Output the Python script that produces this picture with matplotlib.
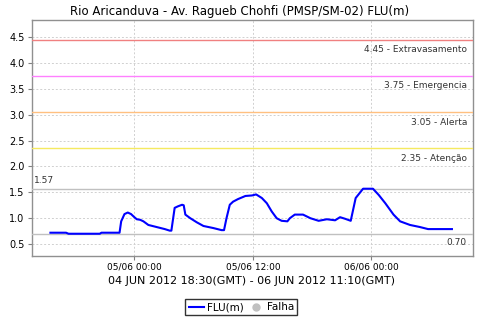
import matplotlib
matplotlib.use("Agg")
import matplotlib.pyplot as plt
import matplotlib.dates as mdates
from matplotlib.lines import Line2D
import pandas as pd

title = "Rio Aricanduva - Av. Ragueb Chohfi (PMSP/SM-02) FLU(m)"
xlabel = "04 JUN 2012 18:30(GMT) - 06 JUN 2012 11:10(GMT)"

times = [
    "2012-06-04 15:30", "2012-06-04 17:05", "2012-06-04 17:20", "2012-06-04 20:30",
    "2012-06-04 20:40", "2012-06-04 22:30", "2012-06-04 22:40", "2012-06-04 23:00",
    "2012-06-04 23:20", "2012-06-04 23:40", "2012-06-05 00:00", "2012-06-05 00:15",
    "2012-06-05 00:35", "2012-06-05 00:55", "2012-06-05 01:25", "2012-06-05 02:15",
    "2012-06-05 03:05", "2012-06-05 03:35", "2012-06-05 03:45", "2012-06-05 04:05",
    "2012-06-05 04:25", "2012-06-05 04:50", "2012-06-05 05:00", "2012-06-05 05:10",
    "2012-06-05 05:40", "2012-06-05 06:20", "2012-06-05 07:00", "2012-06-05 08:00",
    "2012-06-05 08:50", "2012-06-05 09:05", "2012-06-05 09:20", "2012-06-05 09:40",
    "2012-06-05 10:00", "2012-06-05 10:30", "2012-06-05 11:15", "2012-06-05 11:55",
    "2012-06-05 12:20", "2012-06-05 12:55", "2012-06-05 13:25", "2012-06-05 13:55",
    "2012-06-05 14:25", "2012-06-05 14:55", "2012-06-05 15:30", "2012-06-05 15:45",
    "2012-06-05 16:15", "2012-06-05 17:05", "2012-06-05 17:50", "2012-06-05 18:40",
    "2012-06-05 19:30", "2012-06-05 20:20", "2012-06-05 20:50", "2012-06-05 21:20",
    "2012-06-05 21:55", "2012-06-05 22:25", "2012-06-05 22:40", "2012-06-05 23:10",
    "2012-06-06 00:10", "2012-06-06 00:45", "2012-06-06 01:25", "2012-06-06 02:15",
    "2012-06-06 02:55", "2012-06-06 03:55", "2012-06-06 04:55", "2012-06-06 05:45",
    "2012-06-06 08:10",
]
values = [
    0.72, 0.72, 0.70, 0.70,
    0.72, 0.72, 0.94, 1.08,
    1.11, 1.08, 1.02, 0.98,
    0.97, 0.94, 0.87, 0.83,
    0.79, 0.76, 0.76, 1.20,
    1.23, 1.26, 1.25, 1.07,
    1.00, 0.92, 0.85, 0.81,
    0.77, 0.77, 1.00, 1.26,
    1.32, 1.37, 1.43, 1.44,
    1.46, 1.39, 1.29, 1.13,
    1.00, 0.95, 0.94, 1.00,
    1.07, 1.07, 1.00, 0.95,
    0.98, 0.96, 1.02, 0.99,
    0.95, 1.39, 1.45, 1.57,
    1.57, 1.45, 1.29, 1.07,
    0.94, 0.87, 0.83, 0.79,
    0.79,
]

thr_values = [4.45, 3.75, 3.05, 2.35]
thr_names = ["Extravasamento", "Emergencia", "Alerta", "Atenção"]
thr_colors = ["#f08080", "#ff80ff", "#ffc080", "#f5ea60"]
max_val = 1.57
min_val = 0.70

yticks = [0.5, 1.0, 1.5, 2.0, 2.5, 3.0, 3.5, 4.0, 4.5]
xticks = ["2012-06-05 00:00", "2012-06-05 12:00", "2012-06-06 00:00"]
xlim = ["2012-06-04 13:35", "2012-06-06 10:15"]
ylim = [0.27, 4.84]

t = pd.to_datetime(times)

fig = plt.figure(figsize=(4.8, 3.2), dpi=100)
ax = fig.add_axes([31.5 / 480, 1 - 256 / 320, 441 / 480, 236.5 / 320])

ax.plot(t, values, color="#0000ff", lw=1.5, zorder=5)

for v, n, c in zip(thr_values, thr_names, thr_colors):
    ax.axhline(v, color=c, lw=1.0, zorder=3)
    ax.annotate(f"{v:.2f} - {n}", xy=(1, v), xycoords=("axes fraction", "data"),
                xytext=(-4, -4), textcoords="offset points", ha="right", va="top",
                fontsize=6.5, color="#333333")

ax.axhline(max_val, color="#c0c0c0", lw=1.0, zorder=3)
ax.annotate(f"{max_val:.2f}", xy=(0, max_val), xycoords=("axes fraction", "data"),
            xytext=(2, 3), textcoords="offset points", ha="left", va="bottom",
            fontsize=6.5, color="#333333")
ax.axhline(min_val, color="#c0c0c0", lw=1.0, zorder=3)
ax.annotate(f"{min_val:.2f}", xy=(1, min_val), xycoords=("axes fraction", "data"),
            xytext=(-4, -3), textcoords="offset points", ha="right", va="top",
            fontsize=6.5, color="#333333")

ax.set_xlim(pd.to_datetime(xlim))
ax.set_ylim(ylim)
ax.set_yticks(yticks)
ax.set_yticklabels([f"{y:.1f}" for y in yticks], fontsize=7)
ax.set_xticks(pd.to_datetime(xticks))
ax.xaxis.set_major_formatter(mdates.DateFormatter("%d/%m %H:%M"))
ax.tick_params(axis="x", labelsize=6.5, length=3, color="#808080", pad=2)
ax.tick_params(axis="y", length=3, color="#808080", pad=2)
ax.grid(True, color="#d0d0d0", ls=(0, (2, 2)), lw=0.7)
ax.set_axisbelow(True)
for s in ax.spines.values():
    s.set_color("#909090")
    s.set_linewidth(1.0)

ax.set_xlabel(xlabel, fontsize=8, labelpad=3)
fig.text(0.5, 0.985, title, ha="center", va="top", fontsize=8.5)

handles = [Line2D([], [], color="#0000ff", lw=1.5),
           Line2D([], [], color="#c0c0c0", marker="o", ls="none", markersize=5)]
fig.legend(handles, ["FLU(m)", "Falha"], loc="lower center", bbox_to_anchor=(0.503, 0.008),
           ncol=2, fontsize=7.5, frameon=True, fancybox=False, edgecolor="black",
           handlelength=1.5, handletextpad=0.3, columnspacing=0.4, borderpad=0.3,
           borderaxespad=0.2)

fig.savefig("out.png", dpi=100)
